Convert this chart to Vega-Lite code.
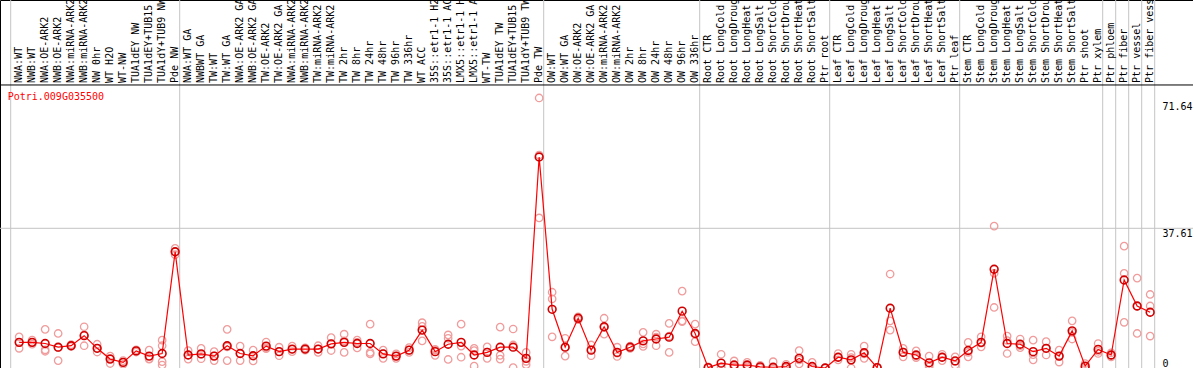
{
  "$schema": "https://vega.github.io/schema/vega-lite/v6.json",
  "width": 1193,
  "height": 368,
  "autosize": {"type": "none"},
  "padding": 0,
  "background": "white",
  "view": {"stroke": "black", "strokeWidth": 1},
  "config": {"font": "DejaVu Sans Mono"},
  "resolve": {"axis": {"y": "independent"}},
  "datasets": {
    "s": [
      {"k":"00","label":"NWA:WT","mean":6.9},
      {"k":"01","label":"NWB:WT","mean":6.9},
      {"k":"02","label":"NWA:OE-ARK2","mean":6.6},
      {"k":"03","label":"NWB:OE-ARK2","mean":5.6},
      {"k":"04","label":"NWA:miRNA-ARK2","mean":6.0},
      {"k":"05","label":"NWB:miRNA-ARK2","mean":8.7},
      {"k":"06","label":"NW 0hr","mean":5.3},
      {"k":"07","label":"WT H2O","mean":2.4},
      {"k":"08","label":"WT-NW","mean":1.5},
      {"k":"09","label":"TUA1dEY NW","mean":4.6},
      {"k":"10","label":"TUA1dEY+TUB15","mean":3.2},
      {"k":"11","label":"TUA1dY+TUB9 NW","mean":3.9},
      {"k":"12","label":"Pde NW","mean":31.3},
      {"k":"13","label":"NWA:WT GA","mean":3.5},
      {"k":"14","label":"NWBWT GA","mean":3.8},
      {"k":"15","label":"TW:WT","mean":3.2},
      {"k":"16","label":"TW:WT GA","mean":6.0},
      {"k":"17","label":"NWA:OE-ARK2 GA","mean":3.9},
      {"k":"18","label":"NWB:OE-ARK2 GA","mean":3.3},
      {"k":"19","label":"TW:OE-ARK2","mean":5.9},
      {"k":"20","label":"TW:OE-ARK2 GA","mean":4.4},
      {"k":"21","label":"NWA:miRNA-ARK2","mean":5.1},
      {"k":"22","label":"NWB:miRNA-ARK2","mean":5.1},
      {"k":"23","label":"TW:miRNA-ARK2","mean":5.1},
      {"k":"24","label":"TW:miRNA-ARK2","mean":6.5},
      {"k":"25","label":"TW 2hr","mean":6.9},
      {"k":"26","label":"TW 8hr","mean":6.6},
      {"k":"27","label":"TW 24hr","mean":6.6},
      {"k":"28","label":"TW 48hr","mean":3.8},
      {"k":"29","label":"TW 96hr","mean":3.2},
      {"k":"30","label":"TW 336hr","mean":4.8},
      {"k":"31","label":"WT ACC","mean":10.2},
      {"k":"32","label":"35S::etr1-1 H2","mean":4.4},
      {"k":"33","label":"35S::etr1-1 AC","mean":6.4},
      {"k":"34","label":"LMX5::etr1-1 H","mean":6.9},
      {"k":"35","label":"LMX5::etr1-1 A","mean":3.5},
      {"k":"36","label":"WT-TW","mean":4.2},
      {"k":"37","label":"TUA1dEY TW","mean":5.6},
      {"k":"38","label":"TUA1dEY+TUB15","mean":5.6},
      {"k":"39","label":"TUA1dY+TUB9 TW","mean":2.6},
      {"k":"40","label":"Pde TW","mean":56.8},
      {"k":"41","label":"OW:WT","mean":15.8},
      {"k":"42","label":"OW:WT GA","mean":5.6},
      {"k":"43","label":"OW:OE-ARK2","mean":13.4},
      {"k":"44","label":"OW:OE-ARK2 GA","mean":4.8},
      {"k":"45","label":"OW:miRNA-ARK2","mean":11.1},
      {"k":"46","label":"OW:miRNA-ARK2","mean":4.2},
      {"k":"47","label":"OW 2hr","mean":5.6},
      {"k":"48","label":"OW 8hr","mean":7.3},
      {"k":"49","label":"OW 24hr","mean":7.8},
      {"k":"50","label":"OW 48hr","mean":8.3},
      {"k":"51","label":"OW 96hr","mean":15.3},
      {"k":"52","label":"OW 336hr","mean":9.3},
      {"k":"53","label":"Root CTR","mean":0.1},
      {"k":"54","label":"Root LongCold","mean":1.3},
      {"k":"55","label":"Root LongDroug","mean":0.8},
      {"k":"56","label":"Root LongHeat","mean":0.8},
      {"k":"57","label":"Root LongSalt","mean":0.3},
      {"k":"58","label":"Root ShortCold","mean":0.2},
      {"k":"59","label":"Root ShortDrou","mean":0.4},
      {"k":"60","label":"Root ShortHeat","mean":2.6},
      {"k":"61","label":"Root ShortSalt","mean":0.4},
      {"k":"62","label":"Ptr root","mean":0.0},
      {"k":"63","label":"Leaf CTR","mean":2.9},
      {"k":"64","label":"Leaf LongCold","mean":2.2},
      {"k":"65","label":"Leaf LongDroug","mean":4.1},
      {"k":"66","label":"Leaf LongHeat","mean":0.1},
      {"k":"67","label":"Leaf LongSalt","mean":16.1},
      {"k":"68","label":"Leaf ShortCold","mean":4.2},
      {"k":"69","label":"Leaf ShortDrou","mean":3.5},
      {"k":"70","label":"Leaf ShortHeat","mean":1.4},
      {"k":"71","label":"Leaf ShortSalt","mean":2.9},
      {"k":"72","label":"Ptr leaf","mean":1.9},
      {"k":"73","label":"Stem CTR","mean":4.7},
      {"k":"74","label":"Stem LongCold","mean":6.9},
      {"k":"75","label":"Stem LongDroug","mean":26.6},
      {"k":"76","label":"Stem LongHeat","mean":6.6},
      {"k":"77","label":"Stem LongSalt","mean":6.4},
      {"k":"78","label":"Stem ShortCold","mean":4.4},
      {"k":"79","label":"Stem ShortDrou","mean":5.3},
      {"k":"80","label":"Stem ShortHeat","mean":3.2},
      {"k":"81","label":"Stem ShortSalt","mean":10.0},
      {"k":"82","label":"Ptr shoot","mean":0.5},
      {"k":"83","label":"Ptr xylem","mean":5.0},
      {"k":"84","label":"Ptr phloem","mean":3.5},
      {"k":"85","label":"Ptr fiber","mean":23.7},
      {"k":"86","label":"Ptr vessel","mean":16.7},
      {"k":"87","label":"Ptr fiber vess","mean":15.0}
    ],
    "r": [
      {"k":"00","v":8.4},{"k":"00","v":6.9},{"k":"00","v":5.3},
      {"k":"01","v":7.5},{"k":"01","v":6.9},{"k":"01","v":6.4},
      {"k":"02","v":10.4},{"k":"02","v":4.9},{"k":"02","v":4.5},
      {"k":"03","v":9.3},{"k":"03","v":5.5},{"k":"03","v":2.0},
      {"k":"04","v":6.3},{"k":"04","v":6.0},{"k":"04","v":5.8},
      {"k":"05","v":11.1},{"k":"05","v":8.9},{"k":"05","v":6.0},
      {"k":"06","v":6.4},{"k":"06","v":5.3},{"k":"06","v":4.3},
      {"k":"07","v":3.2},{"k":"07","v":2.6},{"k":"07","v":1.2},
      {"k":"08","v":2.0},{"k":"08","v":1.5},{"k":"08","v":1.0},
      {"k":"09","v":4.9},{"k":"09","v":4.6},{"k":"09","v":4.3},
      {"k":"10","v":4.8},{"k":"10","v":2.5},{"k":"10","v":2.4},
      {"k":"11","v":7.5},{"k":"11","v":6.0},{"k":"11","v":1.7},{"k":"11","v":0.8},
      {"k":"12","v":32.2},{"k":"12","v":31.3},{"k":"12","v":30.5},
      {"k":"13","v":4.7},{"k":"13","v":3.5},{"k":"13","v":2.4},
      {"k":"14","v":5.3},{"k":"14","v":3.7},{"k":"14","v":2.5},
      {"k":"15","v":4.4},{"k":"15","v":3.3},{"k":"15","v":2.0},
      {"k":"16","v":10.4},{"k":"16","v":5.7},{"k":"16","v":2.0},
      {"k":"17","v":5.9},{"k":"17","v":3.9},{"k":"17","v":2.0},
      {"k":"18","v":4.8},{"k":"18","v":3.3},{"k":"18","v":1.9},
      {"k":"19","v":7.0},{"k":"19","v":5.5},{"k":"19","v":5.2},
      {"k":"20","v":5.6},{"k":"20","v":4.4},{"k":"20","v":3.3},
      {"k":"21","v":5.9},{"k":"21","v":5.0},{"k":"21","v":4.4},
      {"k":"22","v":5.4},{"k":"22","v":5.1},{"k":"22","v":4.8},
      {"k":"23","v":6.0},{"k":"23","v":5.1},{"k":"23","v":4.2},
      {"k":"24","v":8.2},{"k":"24","v":6.5},{"k":"24","v":4.7},
      {"k":"25","v":9.1},{"k":"25","v":7.3},{"k":"25","v":4.2},
      {"k":"26","v":7.5},{"k":"26","v":6.9},{"k":"26","v":5.4},
      {"k":"27","v":11.8},{"k":"27","v":4.2},{"k":"27","v":3.8},
      {"k":"28","v":4.8},{"k":"28","v":3.9},{"k":"28","v":2.6},
      {"k":"29","v":3.8},{"k":"29","v":3.2},{"k":"29","v":2.6},
      {"k":"30","v":5.5},{"k":"30","v":4.8},{"k":"30","v":4.2},
      {"k":"31","v":12.2},{"k":"31","v":11.2},{"k":"31","v":7.3},
      {"k":"32","v":5.0},{"k":"32","v":4.8},{"k":"32","v":3.4},
      {"k":"33","v":8.9},{"k":"33","v":8.0},{"k":"33","v":2.3},
      {"k":"34","v":11.8},{"k":"34","v":5.9},{"k":"34","v":2.9},
      {"k":"35","v":5.3},{"k":"35","v":4.7},{"k":"35","v":0.5},
      {"k":"36","v":5.7},{"k":"36","v":4.3},{"k":"36","v":2.6},
      {"k":"37","v":11.0},{"k":"37","v":3.4},{"k":"37","v":2.4},
      {"k":"38","v":10.5},{"k":"38","v":6.2},{"k":"38","v":0.1},
      {"k":"39","v":4.2},{"k":"39","v":1.8},{"k":"39","v":0.9},
      {"k":"40","v":72.7},{"k":"40","v":57.3},{"k":"40","v":40.4},
      {"k":"41","v":20.4},{"k":"41","v":18.6},{"k":"41","v":8.4},
      {"k":"42","v":8.0},{"k":"42","v":5.6},{"k":"42","v":3.2},
      {"k":"43","v":13.8},{"k":"43","v":13.4},{"k":"43","v":13.0},
      {"k":"44","v":6.2},{"k":"44","v":4.9},{"k":"44","v":3.3},
      {"k":"45","v":13.4},{"k":"45","v":10.9},{"k":"45","v":9.1},
      {"k":"46","v":5.6},{"k":"46","v":4.0},{"k":"46","v":3.1},
      {"k":"47","v":5.9},{"k":"47","v":5.6},{"k":"47","v":5.3},
      {"k":"48","v":9.6},{"k":"48","v":6.5},{"k":"48","v":5.8},
      {"k":"49","v":9.1},{"k":"49","v":8.3},{"k":"49","v":6.0},
      {"k":"50","v":12.0},{"k":"50","v":8.6},{"k":"50","v":4.2},
      {"k":"51","v":20.7},{"k":"51","v":12.7},{"k":"51","v":12.5},
      {"k":"52","v":11.8},{"k":"52","v":9.1},{"k":"52","v":7.1},
      {"k":"53","v":0.3},{"k":"53","v":0.1},{"k":"53","v":0.0},
      {"k":"54","v":3.7},{"k":"54","v":0.3},{"k":"54","v":0.0},
      {"k":"55","v":1.9},{"k":"55","v":0.4},{"k":"55","v":0.2},
      {"k":"56","v":1.5},{"k":"56","v":0.6},{"k":"56","v":0.3},
      {"k":"57","v":0.7},{"k":"57","v":0.3},{"k":"57","v":0.0},
      {"k":"58","v":1.7},{"k":"58","v":0.1},{"k":"58","v":0.0},
      {"k":"59","v":1.0},{"k":"59","v":0.2},{"k":"59","v":0.0},
      {"k":"60","v":4.7},{"k":"60","v":2.2},{"k":"60","v":1.1},
      {"k":"61","v":1.5},{"k":"61","v":0.0},{"k":"61","v":0.0},
      {"k":"62","v":0.0},{"k":"62","v":0.0},{"k":"62","v":0.0},
      {"k":"63","v":3.9},{"k":"63","v":2.9},{"k":"63","v":2.2},
      {"k":"64","v":3.7},{"k":"64","v":2.8},{"k":"64","v":0.0},
      {"k":"65","v":5.9},{"k":"65","v":3.8},{"k":"65","v":2.6},
      {"k":"66","v":0.2},{"k":"66","v":0.1},{"k":"66","v":0.0},
      {"k":"67","v":25.3},{"k":"67","v":12.7},{"k":"67","v":10.2},
      {"k":"68","v":5.3},{"k":"68","v":4.3},{"k":"68","v":3.0},
      {"k":"69","v":4.6},{"k":"69","v":3.2},{"k":"69","v":2.8},
      {"k":"70","v":3.2},{"k":"70","v":0.8},{"k":"70","v":0.3},
      {"k":"71","v":3.7},{"k":"71","v":2.9},{"k":"71","v":2.0},
      {"k":"72","v":3.0},{"k":"72","v":1.8},{"k":"72","v":0.8},
      {"k":"73","v":6.9},{"k":"73","v":4.2},{"k":"73","v":3.0},
      {"k":"74","v":8.4},{"k":"74","v":6.7},{"k":"74","v":5.7},
      {"k":"75","v":38.2},{"k":"75","v":25.5},{"k":"75","v":16.3},
      {"k":"76","v":8.6},{"k":"76","v":7.4},{"k":"76","v":3.9},
      {"k":"77","v":7.8},{"k":"77","v":6.0},{"k":"77","v":5.5},
      {"k":"78","v":7.5},{"k":"78","v":3.6},{"k":"78","v":2.2},
      {"k":"79","v":7.1},{"k":"79","v":5.3},{"k":"79","v":3.5},
      {"k":"80","v":4.8},{"k":"80","v":3.2},{"k":"80","v":1.6},
      {"k":"81","v":12.7},{"k":"81","v":9.6},{"k":"81","v":7.8},
      {"k":"82","v":1.2},{"k":"82","v":0.3},{"k":"82","v":0.0},
      {"k":"83","v":6.6},{"k":"83","v":4.5},{"k":"83","v":3.9},
      {"k":"84","v":4.1},{"k":"84","v":3.4},{"k":"84","v":3.0},
      {"k":"85","v":32.8},{"k":"85","v":25.5},{"k":"85","v":12.3},
      {"k":"86","v":24.2},{"k":"86","v":16.6},{"k":"86","v":9.3},
      {"k":"87","v":19.8},{"k":"87","v":16.7},{"k":"87","v":8.6}
    ],
    "g": [{"k":"00"},{"k":"13"},{"k":"41"},{"k":"53"},{"k":"63"},{"k":"73"},{"k":"84"},{"k":"85"},{"k":"86"},{"k":"87"}],
    "e": [{"k":"87"}],
    "one": [{}]
  },
  "layer": [
    {
      "data": {"name": "g"},
      "mark": {"type": "rule", "color": "#c4c4c4", "strokeWidth": 1},
      "encoding": {
        "x": {"field": "k", "type": "nominal", "bandPosition": 0, "axis": null,
              "scale": {"type": "band", "range": [10.7, 1154.7], "paddingInner": 0, "paddingOuter": 0}}
      }
    },
    {
      "data": {"name": "e"},
      "mark": {"type": "rule", "color": "#c4c4c4", "strokeWidth": 1},
      "encoding": {
        "x": {"field": "k", "type": "nominal", "bandPosition": 1, "axis": null}
      }
    },
    {
      "data": {"name": "one"},
      "mark": {"type": "rule", "color": "#c4c4c4", "strokeWidth": 1},
      "encoding": {
        "y": {"datum": 37.61, "type": "quantitative",
              "scale": {"domain": [0, 99.08], "nice": false, "zero": true},
              "axis": {"orient": "right", "offset": -31, "values": [37.61, 71.64], "title": null,
                       "format": ".2f",
                       "labelAlign": "left", "labelPadding": 0, "ticks": false, "domain": false, "grid": false,
                       "labelFont": "DejaVu Sans Mono", "labelFontSize": 10, "labelColor": "black",
                       "labelBaseline": "top", "labelOverlap": false}}
      }
    },
    {
      "data": {"name": "one"},
      "mark": {"type": "rule", "color": "black", "strokeWidth": 1},
      "encoding": {
        "y": {"datum": 76.2, "type": "quantitative", "axis": null}
      }
    },
    {
      "data": {"name": "s"},
      "mark": {"type": "text", "angle": 270, "align": "left", "baseline": "middle", "font": "DejaVu Sans Mono", "fontSize": 10, "color": "black"},
      "encoding": {
        "x": {"field": "k", "type": "nominal", "bandPosition": 0.65, "axis": null},
        "y": {"datum": 76.75, "type": "quantitative", "axis": null},
        "text": {"field": "label"}
      }
    },
    {
      "data": {"name": "one"},
      "mark": {"type": "text", "align": "left", "baseline": "middle", "font": "DejaVu Sans Mono", "fontSize": 10, "color": "#ff0000", "dx": -3, "text": "Potri.009G035500"},
      "encoding": {
        "x": {"datum": "00", "type": "nominal", "bandPosition": 0, "axis": null},
        "y": {"datum": 73.0, "type": "quantitative", "axis": null}
      }
    },
    {
      "data": {"name": "r"},
      "mark": {"type": "point", "shape": "circle", "filled": false, "stroke": "#f09c9c", "strokeWidth": 1.3, "size": 55, "opacity": 1},
      "encoding": {
        "x": {"field": "k", "type": "nominal", "bandPosition": 0.65, "axis": null},
        "y": {"field": "v", "type": "quantitative", "axis": null}
      }
    },
    {
      "data": {"name": "s"},
      "mark": {"type": "line", "color": "#ff0000", "strokeWidth": 1.2},
      "encoding": {
        "x": {"field": "k", "type": "nominal", "bandPosition": 0.65, "axis": null},
        "y": {"field": "mean", "type": "quantitative",
              "axis": {"orient": "right", "offset": -31, "values": [0], "title": null,
                       "format": "d",
                       "labelAlign": "left", "labelPadding": 0, "ticks": false, "domain": false, "grid": false,
                       "labelFont": "DejaVu Sans Mono", "labelFontSize": 10, "labelColor": "black",
                       "labelBaseline": "bottom", "labelOverlap": false}}
      }
    },
    {
      "data": {"name": "s"},
      "mark": {"type": "point", "shape": "circle", "filled": false, "stroke": "#d00000", "strokeWidth": 1.6, "size": 60, "opacity": 1},
      "encoding": {
        "x": {"field": "k", "type": "nominal", "bandPosition": 0.65, "axis": null},
        "y": {"field": "mean", "type": "quantitative", "axis": null}
      }
    }
  ]
}
